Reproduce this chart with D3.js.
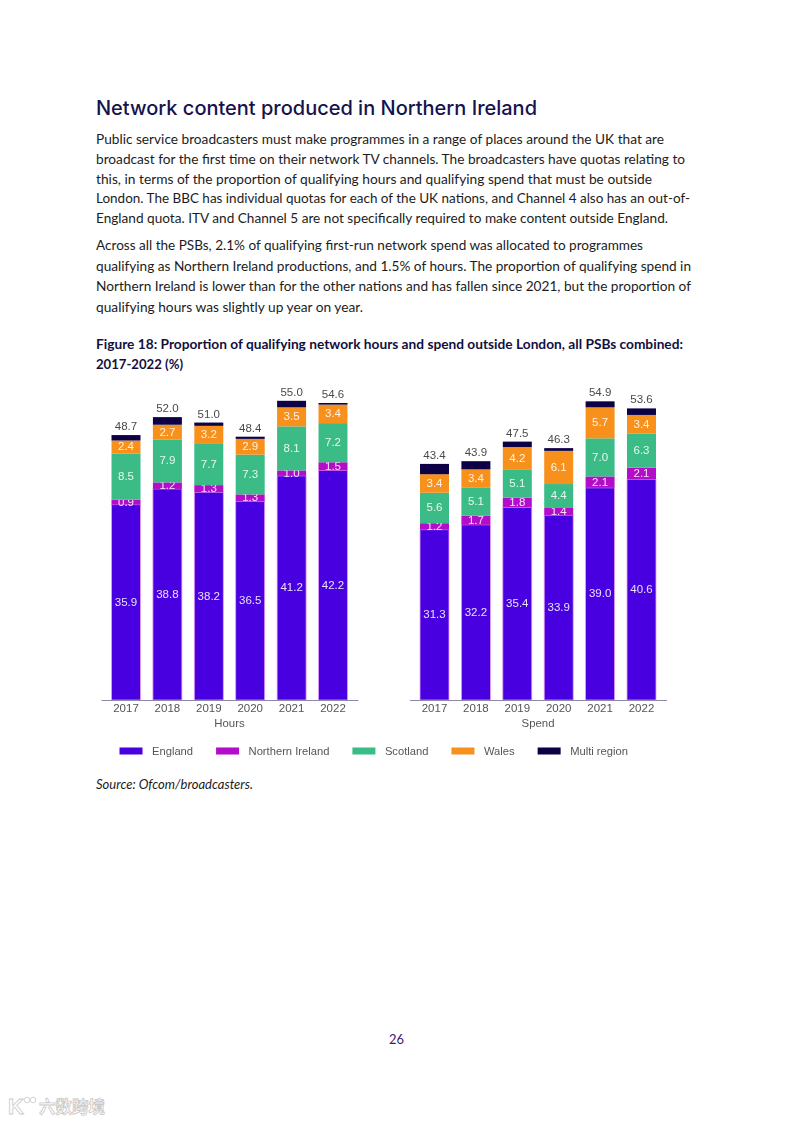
<!DOCTYPE html>
<html>
<head>
<meta charset="utf-8">
<script src="https://cdn.jsdelivr.net/npm/d3@7"></script>
<style>
  html, body { margin: 0; padding: 0; background: #fff; }
  svg { display: block; }
</style>
</head>
<body>
<svg class="page" width="793" height="1122"></svg>
<script>
const years = ['2017', '2018', '2019', '2020', '2021', '2022'];
const seriesNames = ['England', 'Northern Ireland', 'Scotland', 'Wales', 'Multi region'];

const hoursEngland = [35.9, 38.8, 38.2, 36.5, 41.2, 42.2];
const hoursNI = [0.9, 1.2, 1.3, 1.3, 1.0, 1.5];
const hoursScotland = [8.5, 7.9, 7.7, 7.3, 8.1, 7.2];
const hoursWales = [2.4, 2.7, 3.2, 2.9, 3.5, 3.4];
const hoursMulti = [1.0, 1.4, 0.6, 0.4, 1.2, 0.3];
const hoursTotals = ['48.7', '52.0', '51.0', '48.4', '55.0', '54.6'];

const spendEngland = [31.3, 32.2, 35.4, 33.9, 39.0, 40.6];
const spendNI = [1.2, 1.7, 1.8, 1.4, 2.1, 2.1];
const spendScotland = [5.6, 5.1, 5.1, 4.4, 7.0, 6.3];
const spendWales = [3.4, 3.4, 4.2, 6.1, 5.7, 3.4];
const spendMulti = [1.9, 1.5, 1.0, 0.5, 1.1, 1.2];
const spendTotals = ['43.4', '43.9', '47.5', '46.3', '54.9', '53.6'];

const colours = ['#4800e0', '#b30dc9', '#3abb85', '#f7911f', '#0a0045'];

const heading = 'Network content produced in Northern Ireland';
const para1 = [
    'Public service broadcasters must make programmes in a range of places around the UK that are',
    'broadcast for the first time on their network TV channels. The broadcasters have quotas relating to',
    'this, in terms of the proportion of qualifying hours and qualifying spend that must be outside',
    'London. The BBC has individual quotas for each of the UK nations, and Channel 4 also has an out-of-',
    'England quota. ITV and Channel 5 are not specifically required to make content outside England.'
];
const para2 = [
    'Across all the PSBs, 2.1% of qualifying first-run network spend was allocated to programmes',
    'qualifying as Northern Ireland productions, and 1.5% of hours. The proportion of qualifying spend in',
    'Northern Ireland is lower than for the other nations and has fallen since 2021, but the proportion of',
    'qualifying hours was slightly up year on year.'
];
const figureTitle = [
    'Figure 18: Proportion of qualifying network hours and spend outside London, all PSBs combined:',
    '2017-2022 (%)'
];

const page = d3.select('.page');

// page text, widths fitted to the scan so the line ends land in the same place
const addLine = (text, y, width, size, opts = {}) => page.append('text')
    .attr('x', opts.x || 96)
    .attr('y', y)
    .attr('textLength', width)
    .attr('lengthAdjust', 'spacingAndGlyphs')
    .attr('font-family', opts.family || 'Lato, sans-serif')
    .attr('font-size', size)
    .attr('font-weight', opts.weight || 400)
    .attr('font-style', opts.style || 'normal')
    .attr('fill', opts.fill || '#1c1c1c')
    .text(text);

addLine(heading, 115, 441, 20, { family: 'Inter, sans-serif', weight: 450, fill: '#14134d' });

const para1Widths = [568, 589, 556, 594, 572];
para1.forEach((t, i) => addLine(t, 144 + i * 19.8, para1Widths[i], 14));

const para2Widths = [547, 595, 595, 267];
para2.forEach((t, i) => addLine(t, 250 + i * 20.6, para2Widths[i], 14));

const titleWidths = [587, 87];
figureTitle.forEach((t, i) => addLine(t, 349 + i * 20, titleWidths[i], 14, { weight: 700, fill: '#12103f' }));

addLine('Source: Ofcom/broadcasters.', 789, 157, 13.5, { style: 'italic' });
addLine('26', 1044, 15, 14, { x: 389, fill: '#3b1a78' });

// faint scan softness on the pasted chart image
const defs = page.append('defs');
defs.append('filter').attr('id', 'soft')
    .attr('x', '-2%').attr('y', '-2%').attr('width', '104%').attr('height', '104%')
    .append('feGaussianBlur').attr('stdDeviation', 0.45);

const chartG = page.append('g').attr('filter', 'url(#soft)');

const baseline = 700;
const y = d3.scaleLinear().domain([0, 60]).range([baseline, baseline - 60 * 5.44]);

const stack = d3.stack().keys(d3.range(seriesNames.length));

const renderPanel = (left, right, name, series, totals) => {
    const rows = years.map((yr, i) => series.map(s => s[i]));

    const x = d3.scaleBand()
        .domain(years)
        .range([left, right])
        .paddingInner(0.3)
        .paddingOuter(0.254);

    const g = chartG.append('g');

    const layers = g.selectAll('.layer')
        .data(stack(rows))
        .join('g')
        .attr('class', 'layer')
        .attr('fill', (d, i) => colours[i]);

    layers.selectAll('rect')
        .data(d => d)
        .join('rect')
        .attr('x', (d, i) => x(years[i]))
        .attr('width', x.bandwidth())
        .attr('y', d => y(d[1]))
        .attr('height', d => y(d[0]) - y(d[1]));

    // pale pink fringe down the sides of the England bars
    layers.filter((d, i) => i === 0)
        .attr('stroke', '#e59bf5')
        .attr('stroke-width', 0.8);

    // the value labels skip the multi region layer
    layers.filter((d, i) => i < 4)
        .selectAll('text')
        .data(d => d.map(p => ({ p, key: d.key })))
        .join('text')
        .attr('x', (d, i) => x(years[i]) + x.bandwidth() / 2)
        .attr('y', d => (y(d.p[0]) + y(d.p[1])) / 2)
        .attr('dy', '0.3em')
        .attr('text-anchor', 'middle')
        .attr('stroke', 'none')
        .attr('font-family', 'Liberation Sans, sans-serif')
        .attr('font-size', 11.5)
        .attr('fill', '#fff')
        .attr('fill-opacity', 0.88)
        .text(d => (d.p[1] - d.p[0]).toFixed(1));

    g.selectAll('.total')
        .data(rows)
        .join('text')
        .attr('class', 'total')
        .attr('x', (d, i) => x(years[i]) + x.bandwidth() / 2)
        .attr('y', d => y(d3.sum(d)) - 5)
        .attr('text-anchor', 'middle')
        .attr('font-family', 'Liberation Sans, sans-serif')
        .attr('font-size', 11.5)
        .attr('fill', '#4a4a4a')
        .text((d, i) => totals[i]);

    const xAxisG = g.append('g')
        .attr('transform', `translate(0, ${baseline})`)
        .call(d3.axisBottom(x).tickSize(0).tickPadding(4));

    xAxisG.select('.domain').attr('stroke', '#8d86ad');
    xAxisG.selectAll('text')
        .attr('font-family', 'Liberation Sans, sans-serif')
        .attr('font-size', 11.5)
        .attr('fill', '#555');

    g.append('text')
        .attr('x', (left + right) / 2)
        .attr('y', baseline + 27)
        .attr('text-anchor', 'middle')
        .attr('font-family', 'Liberation Sans, sans-serif')
        .attr('font-size', 11.4)
        .attr('fill', '#555')
        .text(name);
};

renderPanel(101, 358, 'Hours', [hoursEngland, hoursNI, hoursScotland, hoursWales, hoursMulti], hoursTotals);
renderPanel(409.5, 666.5, 'Spend', [spendEngland, spendNI, spendScotland, spendWales, spendMulti], spendTotals);

// legend flows left to right from the measured text widths
let legendX = 119.5;
seriesNames.forEach((name, i) => {
    chartG.append('rect')
        .attr('x', legendX)
        .attr('y', 747.5)
        .attr('width', 23)
        .attr('height', 7)
        .attr('fill', colours[i]);
    const label = chartG.append('text')
        .attr('x', legendX + 32.5)
        .attr('y', 755)
        .attr('font-family', 'Liberation Sans, sans-serif')
        .attr('font-size', 11.2)
        .attr('fill', '#555')
        .text(name);
    legendX += 32.5 + label.node().getComputedTextLength() + 23;
});

// watermark bottom left
const mark = page.append('g').attr('fill', '#fff').attr('stroke', '#c9c9c9').attr('stroke-width', 0.8);
mark.append('text')
    .attr('x', 8).attr('y', 1114)
    .attr('font-family', 'Liberation Sans, sans-serif')
    .attr('font-size', 22)
    .attr('font-weight', 700)
    .text('K');
mark.selectAll('circle')
    .data([0, 1])
    .join('circle')
    .attr('cx', d => 27 + d * 6)
    .attr('cy', 1100)
    .attr('r', 2.8);
mark.append('text')
    .attr('x', 39).attr('y', 1113)
    .attr('font-family', 'Noto Sans CJK SC, sans-serif')
    .attr('font-size', 16.5)
    .attr('font-weight', 700)
    .text('六数跨境');
</script>
</body>
</html>
